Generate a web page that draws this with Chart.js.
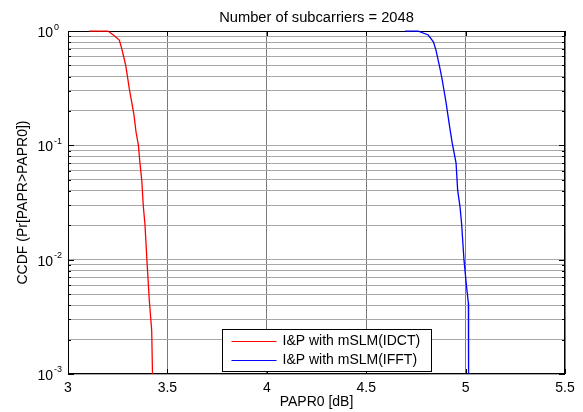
<!DOCTYPE html>
<html>
<head>
<meta charset="utf-8">
<script src="https://cdn.jsdelivr.net/npm/chart.js@4"></script>
<style>
html, body { margin: 0; padding: 0; background: #fff; }
</style>
</head>
<body>
<canvas id="ccdf" width="583" height="412"></canvas>
<script>
var title_text = "Number of subcarriers = 2048";
var x_label = "PAPR0 [dB]";
var y_label = "CCDF (Pr[PAPR>PAPR0])";
var x_ticks = [3, 3.5, 4, 4.5, 5, 5.5];
var y_decades = [0.001, 0.01, 0.1, 1];
var y_exponents = ["-3", "-2", "-1", "0"];
var series_names = ["I&P with mSLM(IDCT)", "I&P with mSLM(IFFT)"];
var series_colors = ["#ff0000", "#0000ff"];

var papr_idct = [3.106, 3.201, 3.228, 3.258, 3.270, 3.278, 3.290, 3.298, 3.308, 3.320, 3.332, 3.342, 3.354, 3.362, 3.371, 3.379, 3.387, 3.397, 3.409, 3.421, 3.425];
var ccdf_idct = [1, 1, 0.923, 0.834, 0.706, 0.617, 0.504, 0.412, 0.315, 0.241, 0.184, 0.1315, 0.1006, 0.07, 0.0497, 0.029, 0.0205, 0.0099, 0.0044, 0.0024, 0.001];
var papr_ifft = [4.695, 4.762, 4.812, 4.838, 4.851, 4.860, 4.871, 4.881, 4.891, 4.901, 4.911, 4.921, 4.933, 4.952, 4.960, 4.972, 4.980, 4.992, 5.005, 5.014, 5.015];
var ccdf_ifft = [1, 1, 0.923, 0.806, 0.682, 0.577, 0.472, 0.386, 0.305, 0.241, 0.184, 0.141, 0.104, 0.07, 0.0406, 0.029, 0.0205, 0.0099, 0.00576, 0.00417, 0.001];

var fam = "'Liberation Sans', Arial, sans-serif";

function pts(xs, ys) {
    return xs.map(function (x, i) { return {x: x, y: ys[i]}; });
}

// 1..9 x each decade, for the log grid
var y_grid = [];
y_decades.forEach(function (d, k) {
    if (k == y_decades.length - 1) { y_grid.push(d); return; }
    for (let m = 1; m < 10; m++) y_grid.push(+(d * m).toPrecision(3));
});

var matlabFrame = {
    id: 'matlabFrame',
    beforeDatasetsDraw: function (chart) {
        const ctx = chart.ctx, a = chart.chartArea;
        const xs = chart.scales.x, ys = chart.scales.y;
        ctx.save();
        ctx.strokeStyle = '#000';
        ctx.lineWidth = 1;
        ctx.beginPath();
        // inward ticks
        ys.ticks.forEach(function (t) {
            const py = Math.round(ys.getPixelForValue(t.value)) + 0.5;
            const len = y_decades.includes(t.value) ? 6 : 3;
            ctx.moveTo(a.left, py); ctx.lineTo(a.left + len, py);
            ctx.moveTo(a.right, py); ctx.lineTo(a.right - len, py);
        });
        xs.ticks.forEach(function (t) {
            const px = Math.round(xs.getPixelForValue(t.value)) + 0.5;
            ctx.moveTo(px, a.top); ctx.lineTo(px, a.top + 5);
            ctx.moveTo(px, a.bottom); ctx.lineTo(px, a.bottom - 5);
        });
        ctx.stroke();
        ctx.strokeRect(Math.round(a.left) + 0.5, Math.round(a.top) + 0.5,
                       Math.round(a.right - a.left) - 1, Math.round(a.bottom - a.top) - 1);

        // y tick labels 10^n
        ctx.fillStyle = '#000';
        y_decades.forEach(function (v, i) {
            const py = ys.getPixelForValue(v);
            ctx.font = '14px ' + fam;
            ctx.textAlign = 'right';
            ctx.textBaseline = 'middle';
            ctx.fillText('10', a.left - 15, py + 2);
            ctx.font = '9px ' + fam;
            ctx.textAlign = 'left';
            ctx.fillText(y_exponents[i], a.left - 14, py - 4);
        });
        ctx.restore();
    },
    afterDraw: function (chart) {
        const ctx = chart.ctx;
        ctx.save();
        // legend box
        const lx = 222.5, ly = 329.5, lw = 209, lh = 42;
        ctx.lineWidth = 1;
        ctx.fillStyle = '#fff';
        ctx.fillRect(lx, ly, lw, lh);
        ctx.strokeStyle = '#000';
        ctx.strokeRect(lx, ly, lw, lh);
        ctx.font = '14px ' + fam;
        chart.data.datasets.forEach(function (ds, i) {
            const yy = ly + 11 + i * 19;
            ctx.strokeStyle = series_colors[i];
            ctx.beginPath();
            ctx.moveTo(lx + 9, Math.round(yy) + 0.5);
            ctx.lineTo(lx + 54, Math.round(yy) + 0.5);
            ctx.stroke();
            ctx.fillStyle = '#000';
            ctx.textAlign = 'left';
            ctx.textBaseline = 'middle';
            ctx.fillText(ds.label, lx + 60, yy + 1);
        });
        ctx.restore();
    }
};

new Chart(document.getElementById('ccdf'), {
    type: 'line',
    data: {
        datasets: [
            {label: series_names[0], data: pts(papr_idct, ccdf_idct), borderColor: series_colors[0], borderWidth: 1.3, clip: 2},
            {label: series_names[1], data: pts(papr_ifft, ccdf_ifft), borderColor: series_colors[1], borderWidth: 1.3, clip: 2}
        ]
    },
    options: {
        responsive: false,
        animation: false,
        layout: {padding: {top: 0, right: 18, left: 0, bottom: 0}},
        elements: {point: {radius: 0}, line: {borderWidth: 1, tension: 0}},
        plugins: {
            legend: {display: false},
            tooltip: {enabled: false},
            title: {display: true, text: title_text, fullSize: false, color: '#000',
                    font: {family: fam, size: 14.7, weight: 'normal'}, padding: {top: 9, bottom: 4.4}}
        },
        scales: {
            x: {
                type: 'linear', min: 3, max: 5.5,
                afterBuildTicks: function (s) { s.ticks = x_ticks.map(function (v) { return {value: v}; }); },
                ticks: {color: '#000', font: {family: fam, size: 14}, padding: 6, maxRotation: 0,
                        callback: function (v) { return String(v); }},
                grid: {color: '#7a7a7a', drawTicks: false},
                border: {display: false},
                title: {display: true, text: x_label, color: '#000', font: {family: fam, size: 14}, padding: {top: 0, bottom: 1}},
                afterFit: function (s) { s.height = 38; }
            },
            y: {
                type: 'logarithmic', min: 0.001, max: 1,
                afterBuildTicks: function (s) { s.ticks = y_grid.map(function (v) { return {value: v}; }); },
                ticks: {display: false},
                grid: {color: '#a8a8a8', drawTicks: false},
                border: {display: false},
                title: {display: true, text: y_label, color: '#000', font: {family: fam, size: 14}, padding: {top: 15}},
                afterFit: function (s) { s.width = 68; }
            }
        }
    },
    plugins: [matlabFrame]
});
</script>
</body>
</html>
